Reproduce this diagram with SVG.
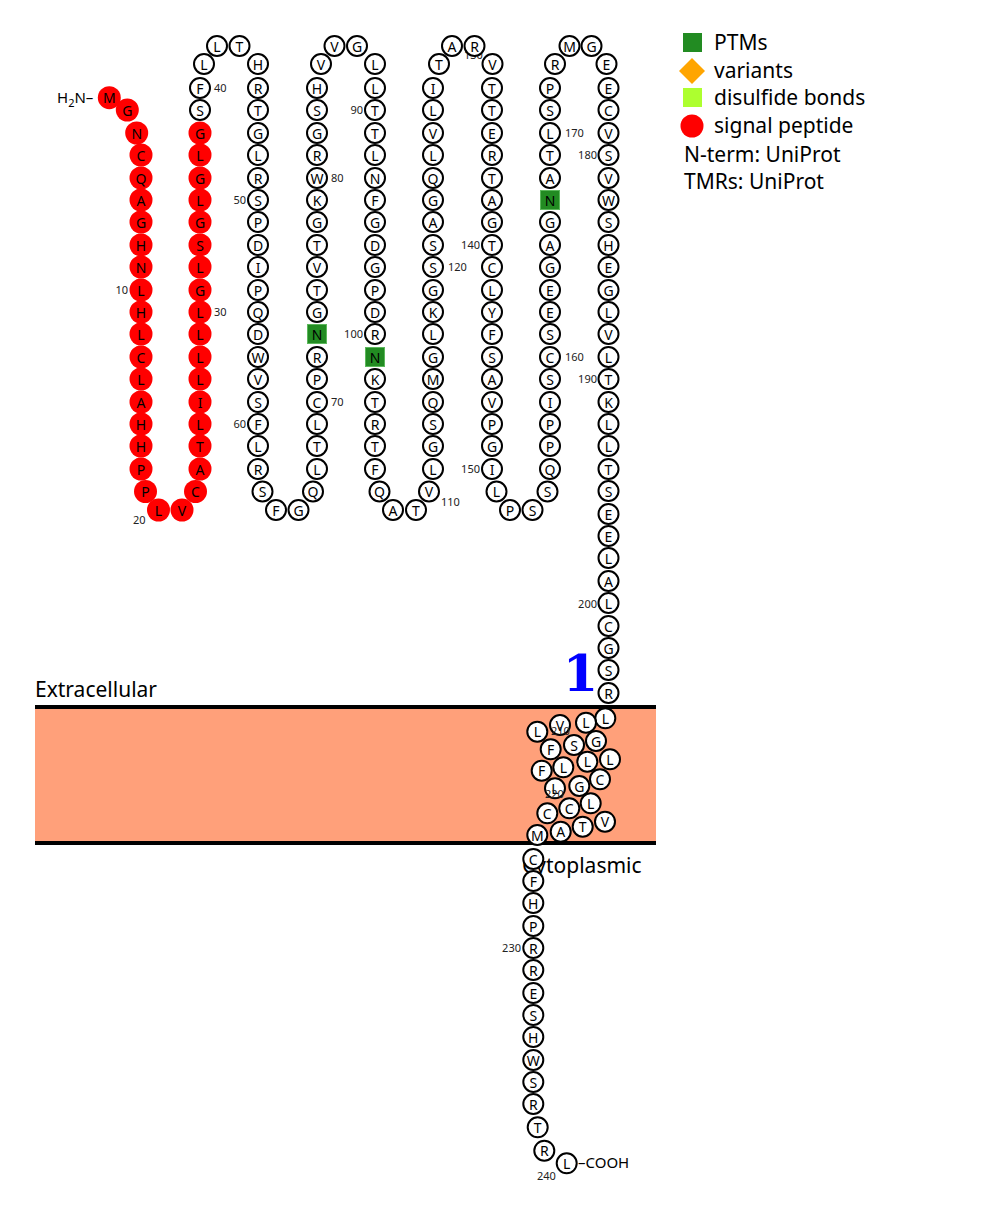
<svg xmlns="http://www.w3.org/2000/svg" width="989" height="1211" viewBox="0 0 989 1211">
<style>
text{font-family:"Noto Sans","Open Sans","DejaVu Sans",sans-serif}
.n circle{r:10px;fill:#fff;stroke:#000;stroke-width:2}
.s circle{r:11.5px;fill:#f00;stroke:none}
.g rect{fill:#228b22;stroke:#5cb85c;stroke-width:1}
.n text,.s text,.g text{font-size:14px;text-anchor:middle;dominant-baseline:central;fill:#000}
.lb{font-size:11px;fill:#222}
.e{text-anchor:end}
.lg{font-size:21px;fill:#000}
.one{font-family:"DejaVu Serif",serif;font-weight:bold;font-size:51px;fill:#0000ff;text-anchor:middle}
</style>
<rect width="989" height="1211" fill="#fff"/>
<g id="membrane">
<rect x="35" y="707" width="621" height="136" fill="#ffa07a"/>
<line x1="35" y1="707" x2="656" y2="707" stroke="#000" stroke-width="4"/>
<line x1="35" y1="843" x2="656" y2="843" stroke="#000" stroke-width="4"/>
<text class="lg" x="35" y="697">Extracellular</text>
<text class="lg" x="522" y="873">Cytoplasmic</text>
<text class="one" x="580.5" y="691">1</text>
</g>
<g id="legend">
<rect x="683" y="33" width="19" height="19" fill="#228b22"/><text class="lg" x="714" y="50">PTMs</text>
<polygon points="692,58 705,71 692,84 679,71" fill="#ffa500"/><text class="lg" x="714" y="78">variants</text>
<rect x="683" y="88" width="19" height="19" fill="#adff2f"/><text class="lg" x="714" y="105">disulfide bonds</text>
<circle cx="692" cy="126" r="11.5" fill="#f00"/><text class="lg" x="714" y="133">signal peptide</text>
<text class="lg" x="684" y="162">N-term: UniProt</text>
<text class="lg" x="684" y="189">TMRs: UniProt</text>
</g>
<g id="termini">
<text x="57" y="103" font-size="15">H<tspan font-size="11" dy="4">2</tspan><tspan dy="-4">N–</tspan></text>
<text x="578" y="1168" font-size="15">–COOH</text>
</g>
<g id="labels">
<text class="lb e" x="128" y="294">10</text>
<text class="lb" x="133" y="524">20</text>
<text class="lb" x="214" y="316">30</text>
<text class="lb" x="214" y="92">40</text>
<text class="lb e" x="246" y="204">50</text>
<text class="lb e" x="246" y="428">60</text>
<text class="lb" x="331" y="406">70</text>
<text class="lb" x="331" y="182">80</text>
<text class="lb e" x="363" y="114">90</text>
<text class="lb e" x="363" y="338">100</text>
<text class="lb" x="441" y="506">110</text>
<text class="lb" x="448" y="271">120</text>
<text class="lb" x="464" y="59">130</text>
<text class="lb e" x="480" y="249">140</text>
<text class="lb e" x="480" y="473">150</text>
<text class="lb" x="565" y="361">160</text>
<text class="lb" x="565" y="137">170</text>
<text class="lb e" x="597" y="159">180</text>
<text class="lb e" x="597" y="383">190</text>
<text class="lb e" x="597" y="608">200</text>
<text class="lb e" x="521" y="952">230</text>
<text class="lb" x="537" y="1180">240</text>
</g>
<g id="residues">
<g id="r1" class="s"><circle cx="109.3" cy="97.7"/><text x="109.3" y="97.7">M</text></g>
<g id="r2" class="s"><circle cx="127.3" cy="110"/><text x="127.3" y="110">G</text></g>
<g id="r3" class="s"><circle cx="136.7" cy="133"/><text x="136.7" y="133">N</text></g>
<g id="r4" class="s"><circle cx="141" cy="155"/><text x="141" y="155">C</text></g>
<g id="r5" class="s"><circle cx="141" cy="178"/><text x="141" y="178">Q</text></g>
<g id="r6" class="s"><circle cx="141" cy="200"/><text x="141" y="200">A</text></g>
<g id="r7" class="s"><circle cx="141" cy="222"/><text x="141" y="222">G</text></g>
<g id="r8" class="s"><circle cx="141" cy="245"/><text x="141" y="245">H</text></g>
<g id="r9" class="s"><circle cx="141" cy="267"/><text x="141" y="267">N</text></g>
<g id="r10" class="s"><circle cx="141" cy="290"/><text x="141" y="290">L</text></g>
<g id="r11" class="s"><circle cx="141" cy="312"/><text x="141" y="312">H</text></g>
<g id="r12" class="s"><circle cx="141" cy="334"/><text x="141" y="334">L</text></g>
<g id="r13" class="s"><circle cx="141" cy="357"/><text x="141" y="357">C</text></g>
<g id="r14" class="s"><circle cx="141" cy="379"/><text x="141" y="379">L</text></g>
<g id="r15" class="s"><circle cx="141" cy="402"/><text x="141" y="402">A</text></g>
<g id="r16" class="s"><circle cx="141" cy="424"/><text x="141" y="424">H</text></g>
<g id="r17" class="s"><circle cx="141" cy="446"/><text x="141" y="446">H</text></g>
<g id="r18" class="s"><circle cx="141" cy="469"/><text x="141" y="469">P</text></g>
<g id="r19" class="s"><circle cx="145.5" cy="491.5"/><text x="145.5" y="491.5">P</text></g>
<g id="r20" class="s"><circle cx="158.5" cy="510"/><text x="158.5" y="510">L</text></g>
<g id="r21" class="s"><circle cx="182" cy="510"/><text x="182" y="510">V</text></g>
<g id="r22" class="s"><circle cx="195.5" cy="491.5"/><text x="195.5" y="491.5">C</text></g>
<g id="r23" class="s"><circle cx="200" cy="469"/><text x="200" y="469">A</text></g>
<g id="r24" class="s"><circle cx="200" cy="446"/><text x="200" y="446">T</text></g>
<g id="r25" class="s"><circle cx="200" cy="424"/><text x="200" y="424">L</text></g>
<g id="r26" class="s"><circle cx="200" cy="402"/><text x="200" y="402">I</text></g>
<g id="r27" class="s"><circle cx="200" cy="379"/><text x="200" y="379">L</text></g>
<g id="r28" class="s"><circle cx="200" cy="357"/><text x="200" y="357">L</text></g>
<g id="r29" class="s"><circle cx="200" cy="334"/><text x="200" y="334">L</text></g>
<g id="r30" class="s"><circle cx="200" cy="312"/><text x="200" y="312">L</text></g>
<g id="r31" class="s"><circle cx="200" cy="290"/><text x="200" y="290">G</text></g>
<g id="r32" class="s"><circle cx="200" cy="267"/><text x="200" y="267">L</text></g>
<g id="r33" class="s"><circle cx="200" cy="245"/><text x="200" y="245">S</text></g>
<g id="r34" class="s"><circle cx="200" cy="222"/><text x="200" y="222">G</text></g>
<g id="r35" class="s"><circle cx="200" cy="200"/><text x="200" y="200">L</text></g>
<g id="r36" class="s"><circle cx="200" cy="178"/><text x="200" y="178">G</text></g>
<g id="r37" class="s"><circle cx="200" cy="155"/><text x="200" y="155">L</text></g>
<g id="r38" class="s"><circle cx="200" cy="133"/><text x="200" y="133">G</text></g>
<g id="r39" class="n"><circle cx="200" cy="110"/><text x="200" y="110">S</text></g>
<g id="r40" class="n"><circle cx="200" cy="88"/><text x="200" y="88">F</text></g>
<g id="r41" class="n"><circle cx="204" cy="64"/><text x="204" y="64">L</text></g>
<g id="r42" class="n"><circle cx="217" cy="46"/><text x="217" y="46">L</text></g>
<g id="r43" class="n"><circle cx="239.5" cy="46"/><text x="239.5" y="46">T</text></g>
<g id="r44" class="n"><circle cx="258" cy="64"/><text x="258" y="64">H</text></g>
<g id="r45" class="n"><circle cx="258" cy="88"/><text x="258" y="88">R</text></g>
<g id="r46" class="n"><circle cx="258" cy="110"/><text x="258" y="110">T</text></g>
<g id="r47" class="n"><circle cx="258" cy="133"/><text x="258" y="133">G</text></g>
<g id="r48" class="n"><circle cx="258" cy="155"/><text x="258" y="155">L</text></g>
<g id="r49" class="n"><circle cx="258" cy="178"/><text x="258" y="178">R</text></g>
<g id="r50" class="n"><circle cx="258" cy="200"/><text x="258" y="200">S</text></g>
<g id="r51" class="n"><circle cx="258" cy="222"/><text x="258" y="222">P</text></g>
<g id="r52" class="n"><circle cx="258" cy="245"/><text x="258" y="245">D</text></g>
<g id="r53" class="n"><circle cx="258" cy="267"/><text x="258" y="267">I</text></g>
<g id="r54" class="n"><circle cx="258" cy="290"/><text x="258" y="290">P</text></g>
<g id="r55" class="n"><circle cx="258" cy="312"/><text x="258" y="312">Q</text></g>
<g id="r56" class="n"><circle cx="258" cy="334"/><text x="258" y="334">D</text></g>
<g id="r57" class="n"><circle cx="258" cy="357"/><text x="258" y="357">W</text></g>
<g id="r58" class="n"><circle cx="258" cy="379"/><text x="258" y="379">V</text></g>
<g id="r59" class="n"><circle cx="258" cy="402"/><text x="258" y="402">S</text></g>
<g id="r60" class="n"><circle cx="258" cy="424"/><text x="258" y="424">F</text></g>
<g id="r61" class="n"><circle cx="258" cy="446"/><text x="258" y="446">L</text></g>
<g id="r62" class="n"><circle cx="258" cy="469"/><text x="258" y="469">R</text></g>
<g id="r63" class="n"><circle cx="262.5" cy="491.5"/><text x="262.5" y="491.5">S</text></g>
<g id="r64" class="n"><circle cx="276" cy="510"/><text x="276" y="510">F</text></g>
<g id="r65" class="n"><circle cx="298.5" cy="510"/><text x="298.5" y="510">G</text></g>
<g id="r66" class="n"><circle cx="313" cy="491.5"/><text x="313" y="491.5">Q</text></g>
<g id="r67" class="n"><circle cx="317" cy="469"/><text x="317" y="469">L</text></g>
<g id="r68" class="n"><circle cx="317" cy="446"/><text x="317" y="446">T</text></g>
<g id="r69" class="n"><circle cx="317" cy="424"/><text x="317" y="424">L</text></g>
<g id="r70" class="n"><circle cx="317" cy="402"/><text x="317" y="402">C</text></g>
<g id="r71" class="n"><circle cx="317" cy="379"/><text x="317" y="379">P</text></g>
<g id="r72" class="n"><circle cx="317" cy="357"/><text x="317" y="357">R</text></g>
<g id="r73" class="g"><rect x="307.5" y="324.5" width="19" height="19"/><text x="317" y="334">N</text></g>
<g id="r74" class="n"><circle cx="317" cy="312"/><text x="317" y="312">G</text></g>
<g id="r75" class="n"><circle cx="317" cy="290"/><text x="317" y="290">T</text></g>
<g id="r76" class="n"><circle cx="317" cy="267"/><text x="317" y="267">V</text></g>
<g id="r77" class="n"><circle cx="317" cy="245"/><text x="317" y="245">T</text></g>
<g id="r78" class="n"><circle cx="317" cy="222"/><text x="317" y="222">G</text></g>
<g id="r79" class="n"><circle cx="317" cy="200"/><text x="317" y="200">K</text></g>
<g id="r80" class="n"><circle cx="317" cy="178"/><text x="317" y="178">W</text></g>
<g id="r81" class="n"><circle cx="317" cy="155"/><text x="317" y="155">R</text></g>
<g id="r82" class="n"><circle cx="317" cy="133"/><text x="317" y="133">G</text></g>
<g id="r83" class="n"><circle cx="317" cy="110"/><text x="317" y="110">S</text></g>
<g id="r84" class="n"><circle cx="317" cy="88"/><text x="317" y="88">H</text></g>
<g id="r85" class="n"><circle cx="321" cy="64"/><text x="321" y="64">V</text></g>
<g id="r86" class="n"><circle cx="334.5" cy="46"/><text x="334.5" y="46">V</text></g>
<g id="r87" class="n"><circle cx="357" cy="46"/><text x="357" y="46">G</text></g>
<g id="r88" class="n"><circle cx="375" cy="64"/><text x="375" y="64">L</text></g>
<g id="r89" class="n"><circle cx="375" cy="88"/><text x="375" y="88">L</text></g>
<g id="r90" class="n"><circle cx="375" cy="110"/><text x="375" y="110">T</text></g>
<g id="r91" class="n"><circle cx="375" cy="133"/><text x="375" y="133">T</text></g>
<g id="r92" class="n"><circle cx="375" cy="155"/><text x="375" y="155">L</text></g>
<g id="r93" class="n"><circle cx="375" cy="178"/><text x="375" y="178">N</text></g>
<g id="r94" class="n"><circle cx="375" cy="200"/><text x="375" y="200">F</text></g>
<g id="r95" class="n"><circle cx="375" cy="222"/><text x="375" y="222">G</text></g>
<g id="r96" class="n"><circle cx="375" cy="245"/><text x="375" y="245">D</text></g>
<g id="r97" class="n"><circle cx="375" cy="267"/><text x="375" y="267">G</text></g>
<g id="r98" class="n"><circle cx="375" cy="290"/><text x="375" y="290">P</text></g>
<g id="r99" class="n"><circle cx="375" cy="312"/><text x="375" y="312">D</text></g>
<g id="r100" class="n"><circle cx="375" cy="334"/><text x="375" y="334">R</text></g>
<g id="r101" class="g"><rect x="365.5" y="347.5" width="19" height="19"/><text x="375" y="357">N</text></g>
<g id="r102" class="n"><circle cx="375" cy="379"/><text x="375" y="379">K</text></g>
<g id="r103" class="n"><circle cx="375" cy="402"/><text x="375" y="402">T</text></g>
<g id="r104" class="n"><circle cx="375" cy="424"/><text x="375" y="424">R</text></g>
<g id="r105" class="n"><circle cx="375" cy="446"/><text x="375" y="446">T</text></g>
<g id="r106" class="n"><circle cx="375" cy="469"/><text x="375" y="469">F</text></g>
<g id="r107" class="n"><circle cx="379.5" cy="491.5"/><text x="379.5" y="491.5">Q</text></g>
<g id="r108" class="n"><circle cx="393" cy="510"/><text x="393" y="510">A</text></g>
<g id="r109" class="n"><circle cx="416" cy="510"/><text x="416" y="510">T</text></g>
<g id="r110" class="n"><circle cx="429" cy="491.5"/><text x="429" y="491.5">V</text></g>
<g id="r111" class="n"><circle cx="433" cy="469"/><text x="433" y="469">L</text></g>
<g id="r112" class="n"><circle cx="433" cy="446"/><text x="433" y="446">G</text></g>
<g id="r113" class="n"><circle cx="433" cy="424"/><text x="433" y="424">S</text></g>
<g id="r114" class="n"><circle cx="433" cy="402"/><text x="433" y="402">Q</text></g>
<g id="r115" class="n"><circle cx="433" cy="379"/><text x="433" y="379">M</text></g>
<g id="r116" class="n"><circle cx="433" cy="357"/><text x="433" y="357">G</text></g>
<g id="r117" class="n"><circle cx="433" cy="334"/><text x="433" y="334">L</text></g>
<g id="r118" class="n"><circle cx="433" cy="312"/><text x="433" y="312">K</text></g>
<g id="r119" class="n"><circle cx="433" cy="290"/><text x="433" y="290">G</text></g>
<g id="r120" class="n"><circle cx="433" cy="267"/><text x="433" y="267">S</text></g>
<g id="r121" class="n"><circle cx="433" cy="245"/><text x="433" y="245">S</text></g>
<g id="r122" class="n"><circle cx="433" cy="222"/><text x="433" y="222">A</text></g>
<g id="r123" class="n"><circle cx="433" cy="200"/><text x="433" y="200">G</text></g>
<g id="r124" class="n"><circle cx="433" cy="178"/><text x="433" y="178">Q</text></g>
<g id="r125" class="n"><circle cx="433" cy="155"/><text x="433" y="155">L</text></g>
<g id="r126" class="n"><circle cx="433" cy="133"/><text x="433" y="133">V</text></g>
<g id="r127" class="n"><circle cx="433" cy="110"/><text x="433" y="110">L</text></g>
<g id="r128" class="n"><circle cx="433" cy="88"/><text x="433" y="88">I</text></g>
<g id="r129" class="n"><circle cx="439" cy="64"/><text x="439" y="64">T</text></g>
<g id="r130" class="n"><circle cx="452" cy="46"/><text x="452" y="46">A</text></g>
<g id="r131" class="n"><circle cx="474.5" cy="46"/><text x="474.5" y="46">R</text></g>
<g id="r132" class="n"><circle cx="492.5" cy="64"/><text x="492.5" y="64">V</text></g>
<g id="r133" class="n"><circle cx="492" cy="88"/><text x="492" y="88">T</text></g>
<g id="r134" class="n"><circle cx="492" cy="110"/><text x="492" y="110">T</text></g>
<g id="r135" class="n"><circle cx="492" cy="133"/><text x="492" y="133">E</text></g>
<g id="r136" class="n"><circle cx="492" cy="155"/><text x="492" y="155">R</text></g>
<g id="r137" class="n"><circle cx="492" cy="178"/><text x="492" y="178">T</text></g>
<g id="r138" class="n"><circle cx="492" cy="200"/><text x="492" y="200">A</text></g>
<g id="r139" class="n"><circle cx="492" cy="222"/><text x="492" y="222">G</text></g>
<g id="r140" class="n"><circle cx="492" cy="245"/><text x="492" y="245">T</text></g>
<g id="r141" class="n"><circle cx="492" cy="267"/><text x="492" y="267">C</text></g>
<g id="r142" class="n"><circle cx="492" cy="290"/><text x="492" y="290">L</text></g>
<g id="r143" class="n"><circle cx="492" cy="312"/><text x="492" y="312">Y</text></g>
<g id="r144" class="n"><circle cx="492" cy="334"/><text x="492" y="334">F</text></g>
<g id="r145" class="n"><circle cx="492" cy="357"/><text x="492" y="357">S</text></g>
<g id="r146" class="n"><circle cx="492" cy="379"/><text x="492" y="379">A</text></g>
<g id="r147" class="n"><circle cx="492" cy="402"/><text x="492" y="402">V</text></g>
<g id="r148" class="n"><circle cx="492" cy="424"/><text x="492" y="424">P</text></g>
<g id="r149" class="n"><circle cx="492" cy="446"/><text x="492" y="446">G</text></g>
<g id="r150" class="n"><circle cx="492" cy="469"/><text x="492" y="469">I</text></g>
<g id="r151" class="n"><circle cx="496.5" cy="491.5"/><text x="496.5" y="491.5">L</text></g>
<g id="r152" class="n"><circle cx="510" cy="510"/><text x="510" y="510">P</text></g>
<g id="r153" class="n"><circle cx="532.5" cy="510"/><text x="532.5" y="510">S</text></g>
<g id="r154" class="n"><circle cx="547.5" cy="491.5"/><text x="547.5" y="491.5">S</text></g>
<g id="r155" class="n"><circle cx="550" cy="469"/><text x="550" y="469">Q</text></g>
<g id="r156" class="n"><circle cx="550" cy="446"/><text x="550" y="446">P</text></g>
<g id="r157" class="n"><circle cx="550" cy="424"/><text x="550" y="424">P</text></g>
<g id="r158" class="n"><circle cx="550" cy="402"/><text x="550" y="402">I</text></g>
<g id="r159" class="n"><circle cx="550" cy="379"/><text x="550" y="379">S</text></g>
<g id="r160" class="n"><circle cx="550" cy="357"/><text x="550" y="357">C</text></g>
<g id="r161" class="n"><circle cx="550" cy="334"/><text x="550" y="334">S</text></g>
<g id="r162" class="n"><circle cx="550" cy="312"/><text x="550" y="312">E</text></g>
<g id="r163" class="n"><circle cx="550" cy="290"/><text x="550" y="290">E</text></g>
<g id="r164" class="n"><circle cx="550" cy="267"/><text x="550" y="267">G</text></g>
<g id="r165" class="n"><circle cx="550" cy="245"/><text x="550" y="245">A</text></g>
<g id="r166" class="n"><circle cx="550" cy="222"/><text x="550" y="222">G</text></g>
<g id="r167" class="g"><rect x="540.5" y="190.5" width="19" height="19"/><text x="550" y="200">N</text></g>
<g id="r168" class="n"><circle cx="550" cy="178"/><text x="550" y="178">A</text></g>
<g id="r169" class="n"><circle cx="550" cy="155"/><text x="550" y="155">T</text></g>
<g id="r170" class="n"><circle cx="550" cy="133"/><text x="550" y="133">L</text></g>
<g id="r171" class="n"><circle cx="550" cy="110"/><text x="550" y="110">S</text></g>
<g id="r172" class="n"><circle cx="550" cy="88"/><text x="550" y="88">P</text></g>
<g id="r173" class="n"><circle cx="555" cy="64"/><text x="555" y="64">R</text></g>
<g id="r174" class="n"><circle cx="569.5" cy="46"/><text x="569.5" y="46">M</text></g>
<g id="r175" class="n"><circle cx="591.5" cy="46"/><text x="591.5" y="46">G</text></g>
<g id="r176" class="n"><circle cx="606.5" cy="64"/><text x="606.5" y="64">E</text></g>
<g id="r177" class="n"><circle cx="608.5" cy="88"/><text x="608.5" y="88">E</text></g>
<g id="r178" class="n"><circle cx="608.5" cy="110"/><text x="608.5" y="110">C</text></g>
<g id="r179" class="n"><circle cx="608.5" cy="133"/><text x="608.5" y="133">V</text></g>
<g id="r180" class="n"><circle cx="608.5" cy="155"/><text x="608.5" y="155">S</text></g>
<g id="r181" class="n"><circle cx="608.5" cy="178"/><text x="608.5" y="178">V</text></g>
<g id="r182" class="n"><circle cx="608.5" cy="200"/><text x="608.5" y="200">W</text></g>
<g id="r183" class="n"><circle cx="608.5" cy="222"/><text x="608.5" y="222">S</text></g>
<g id="r184" class="n"><circle cx="608.5" cy="245"/><text x="608.5" y="245">H</text></g>
<g id="r185" class="n"><circle cx="608.5" cy="267"/><text x="608.5" y="267">E</text></g>
<g id="r186" class="n"><circle cx="608.5" cy="290"/><text x="608.5" y="290">G</text></g>
<g id="r187" class="n"><circle cx="608.5" cy="312"/><text x="608.5" y="312">L</text></g>
<g id="r188" class="n"><circle cx="608.5" cy="334"/><text x="608.5" y="334">V</text></g>
<g id="r189" class="n"><circle cx="608.5" cy="357"/><text x="608.5" y="357">L</text></g>
<g id="r190" class="n"><circle cx="608.5" cy="379"/><text x="608.5" y="379">T</text></g>
<g id="r191" class="n"><circle cx="608.5" cy="402"/><text x="608.5" y="402">K</text></g>
<g id="r192" class="n"><circle cx="608.5" cy="424"/><text x="608.5" y="424">L</text></g>
<g id="r193" class="n"><circle cx="608.5" cy="446"/><text x="608.5" y="446">L</text></g>
<g id="r194" class="n"><circle cx="608.5" cy="469"/><text x="608.5" y="469">T</text></g>
<g id="r195" class="n"><circle cx="608.5" cy="491"/><text x="608.5" y="491">S</text></g>
<g id="r196" class="n"><circle cx="608.5" cy="514"/><text x="608.5" y="514">E</text></g>
<g id="r197" class="n"><circle cx="608.5" cy="536"/><text x="608.5" y="536">E</text></g>
<g id="r198" class="n"><circle cx="608.5" cy="558"/><text x="608.5" y="558">L</text></g>
<g id="r199" class="n"><circle cx="608.5" cy="581"/><text x="608.5" y="581">A</text></g>
<g id="r200" class="n"><circle cx="608.5" cy="603"/><text x="608.5" y="603">L</text></g>
<g id="r201" class="n"><circle cx="608.5" cy="626"/><text x="608.5" y="626">C</text></g>
<g id="r202" class="n"><circle cx="608.5" cy="648"/><text x="608.5" y="648">G</text></g>
<g id="r203" class="n"><circle cx="608.5" cy="670"/><text x="608.5" y="670">S</text></g>
<g id="r204" class="n"><circle cx="608.5" cy="693"/><text x="608.5" y="693">R</text></g>
<g id="r205" class="n"><circle cx="605.3" cy="718.3"/><text x="605.3" y="718.3">L</text></g>
<g id="r206" class="n"><circle cx="586" cy="722.7"/><text x="586" y="722.7">L</text></g>
<g id="r207" class="n"><circle cx="560" cy="725"/><text x="560" y="725">V</text></g>
<g id="r208" class="n"><circle cx="537.3" cy="731.7"/><text x="537.3" y="731.7">L</text></g>
<g id="r209" class="n"><circle cx="550.7" cy="749.3"/><text x="550.7" y="749.3">F</text></g>
<g id="r210" class="n"><circle cx="574" cy="745"/><text x="574" y="745">S</text></g>
<g id="r211" class="n"><circle cx="596" cy="741"/><text x="596" y="741">G</text></g>
<g id="r212" class="n"><circle cx="610" cy="759.3"/><text x="610" y="759.3">L</text></g>
<g id="r213" class="n"><circle cx="587.3" cy="761.7"/><text x="587.3" y="761.7">L</text></g>
<g id="r214" class="n"><circle cx="563.3" cy="767.3"/><text x="563.3" y="767.3">L</text></g>
<g id="r215" class="n"><circle cx="541.7" cy="770.7"/><text x="541.7" y="770.7">F</text></g>
<g id="r216" class="n"><circle cx="555" cy="788.3"/><text x="555" y="788.3">L</text></g>
<g id="r217" class="n"><circle cx="579.3" cy="786"/><text x="579.3" y="786">G</text></g>
<g id="r218" class="n"><circle cx="600" cy="779.3"/><text x="600" y="779.3">C</text></g>
<g id="r219" class="n"><circle cx="590.7" cy="803.3"/><text x="590.7" y="803.3">L</text></g>
<g id="r220" class="n"><circle cx="569.3" cy="808.3"/><text x="569.3" y="808.3">C</text></g>
<g id="r221" class="n"><circle cx="547.3" cy="813.3"/><text x="547.3" y="813.3">C</text></g>
<g id="r222" class="n"><circle cx="560.7" cy="831.7"/><text x="560.7" y="831.7">A</text></g>
<g id="r223" class="n"><circle cx="582.7" cy="826.7"/><text x="582.7" y="826.7">T</text></g>
<g id="r224" class="n"><circle cx="605" cy="821.7"/><text x="605" y="821.7">V</text></g>
<g id="r225" class="n"><circle cx="537.3" cy="835"/><text x="537.3" y="835">M</text></g>
<g id="r226" class="n"><circle cx="533.3" cy="859"/><text x="533.3" y="859">C</text></g>
<g id="r227" class="n"><circle cx="533.3" cy="881"/><text x="533.3" y="881">F</text></g>
<g id="r228" class="n"><circle cx="533.3" cy="903"/><text x="533.3" y="903">H</text></g>
<g id="r229" class="n"><circle cx="533.3" cy="926"/><text x="533.3" y="926">P</text></g>
<g id="r230" class="n"><circle cx="533.3" cy="948"/><text x="533.3" y="948">R</text></g>
<g id="r231" class="n"><circle cx="533.3" cy="970"/><text x="533.3" y="970">R</text></g>
<g id="r232" class="n"><circle cx="533.3" cy="993"/><text x="533.3" y="993">E</text></g>
<g id="r233" class="n"><circle cx="533.3" cy="1015"/><text x="533.3" y="1015">S</text></g>
<g id="r234" class="n"><circle cx="533.3" cy="1037"/><text x="533.3" y="1037">H</text></g>
<g id="r235" class="n"><circle cx="533.3" cy="1060"/><text x="533.3" y="1060">W</text></g>
<g id="r236" class="n"><circle cx="533.3" cy="1082"/><text x="533.3" y="1082">S</text></g>
<g id="r237" class="n"><circle cx="533.3" cy="1104"/><text x="533.3" y="1104">R</text></g>
<g id="r238" class="n"><circle cx="537.7" cy="1127.3"/><text x="537.7" y="1127.3">T</text></g>
<g id="r239" class="n"><circle cx="544.3" cy="1150.7"/><text x="544.3" y="1150.7">R</text></g>
<g id="r240" class="n"><circle cx="566.7" cy="1163.3"/><text x="566.7" y="1163.3">L</text></g>
</g>
<g id="tm-labels">
<text class="lb" x="551" y="735">210</text>
<text class="lb" x="545" y="798">220</text>
</g>
<g id="connectors"></g>
</svg>
